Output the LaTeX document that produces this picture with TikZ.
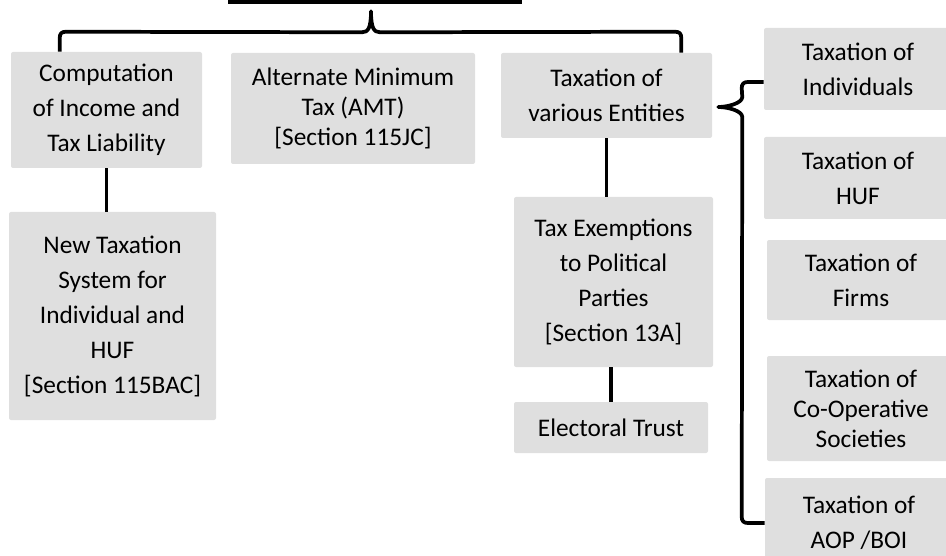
\documentclass[tikz,border=0pt]{standalone}
\usepackage{fontspec}
\setmainfont{Carlito}
\definecolor{boxgray}{HTML}{DFDFDF}
\usetikzlibrary{positioning, calc}

\begin{document}
\begin{tikzpicture}[
  x=0.75pt, y=-0.75pt,
  box/.style={rectangle, rounded corners=1.5pt,
    fill=boxgray, inner sep=0pt,
    align=center, font=\fontsize{19}{26.25}\selectfont},
  tight/.style={font=\fontsize{19}{22.5}\selectfont},
  side/.style={box, minimum width=141pt},
  topbox/.style={rectangle, fill=black, inner sep=0pt},
  link/.style={line width=2.8pt, black},
  brace/.style={line width=2.8pt, black, line join=round}
]
  \useasboundingbox (0,0) rectangle (946,556);

  \node[topbox, minimum width=220.5pt, minimum height=22.5pt] (root) at (375,-11) {};

  % first row
  \node[box, minimum width=143.25pt, minimum height=87pt] (comp) at (106.5,110)
    {Computation\\of Income and\\Tax Liability};
  \node[box, tight, minimum width=183pt, minimum height=83.25pt] (amt) at (353,108.5)
    {Alternate Minimum\\Tax (AMT)\\{[}Section 115JC{]}};
  \node[box, minimum width=158.25pt, minimum height=63.75pt] (ent) at (606.5,95.5)
    {Taxation of\\various Entities};

  \node[box, minimum width=155.25pt, minimum height=156pt] (newtax) at (112.5,316)
    {New Taxation\\System for\\Individual and\\HUF\\{[}Section 115BAC{]}};
  \node[box, minimum width=149.25pt, minimum height=127.5pt] (pol) at (613.5,282)
    {Tax Exemptions\\to Political\\Parties\\{[}Section 13A{]}};
  \node[box, minimum width=145.5pt, minimum height=38.25pt] (elec) at (611,427.5)
    {Electoral Trust};

  % entities
  \node[side, minimum height=61.5pt] (indiv) at (858,69) {Taxation of\\Individuals};
  \node[side, minimum height=61.5pt] (huf) at (858,178) {Taxation of\\HUF};
  \node[side, minimum height=60pt] (firms) at (861,280) {Taxation of\\Firms};
  \node[side, tight, minimum height=78.75pt] (coop) at (861,408.5)
    {Taxation of\\Co-Operative\\Societies};
  \node[side, minimum height=67.5pt] (aop) at (859,523) {Taxation of\\AOP /BOI};

  \draw[link] (comp.south) -- (comp.south |- newtax.north);
  \draw[link] (ent.south) -- (ent.south |- pol.north);
  \draw[link] (pol.south -| elec.north) -- (elec.north);

  \coordinate (ttip) at ($(root.south)+(-4,7)$);
  \coordinate (rtip) at ($(ent.east)+(6,11.5)$);

  \draw[brace] ($(comp.north west)+(49,0)$) -- ++(0,-14)
    .. controls +(0,-4) and +(-4,0) .. ++(6,-6)
    -- ($(ttip)+(-9,21)$) .. controls +(6,0) and +(0,17) .. (ttip)
    .. controls +(0,17) and +(-6,0) .. ($(ttip)+(9,21)$)
    -- ($(ent.north east)+(-37,-21)$) .. controls +(4,0) and +(0,-4) .. ++(6,6)
    -- ($(ent.north east)+(-31,0)$);

  \draw[brace] ($(indiv.west)+(0,13)$) -- ++(-16,0)
    .. controls +(-4,0) and +(0,-4) .. ++(-6,6)
    -- ($(rtip)+(24,-10)$) .. controls +(0,6) and +(10,0) .. (rtip)
    .. controls +(10,0) and +(0,-6) .. ($(rtip)+(24,10)$)
    -- ($(aop.west)+(-23,-6)$) .. controls +(0,4) and +(-4,0) .. ($(aop.west)+(-17,0)$)
    -- (aop.west);
\end{tikzpicture}
\end{document}
